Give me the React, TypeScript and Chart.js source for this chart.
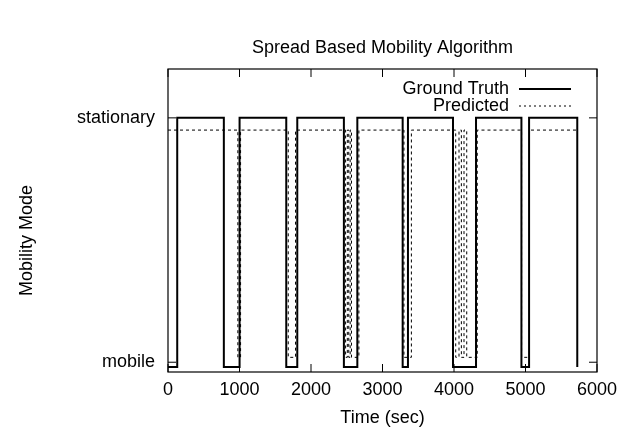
import React, { useEffect, useRef } from 'react';
import { Chart, registerables } from 'chart.js';

Chart.register(...registerables);

const FONT = '"Liberation Sans", Arial, Helvetica, sans-serif';

const chartTitle = 'Spread Based Mobility Algorithm';
const xAxisTitle = 'Time (sec)';
const yAxisTitle = 'Mobility Mode';
const xTickValues = [0, 1000, 2000, 3000, 4000, 5000, 6000];
const yTickValues = [0, 1];
const yTickLabels = ['mobile', 'stationary'];

// Ground truth: time of each change and the level it moves to
const gtTimes = [0, 129, 781, 1001, 1654, 1808, 2460, 2648, 3282, 3356, 3986, 4308, 4943, 5050, 5724];
const gtValues = [-0.02, 1, -0.02, 1, -0.02, 1, -0.02, 1, -0.02, 1, -0.02, 1, -0.02, 1, -0.02];

// Predicted: time of each change and the level it moves to
const predTimes = [0, 977, 1015, 1682, 1784, 2484, 2508, 2528, 2548, 2566, 2670, 3300, 3404, 4024, 4070, 4103, 4140, 4178, 4325, 4945, 5055, 5720];
const predValues = [0.95, 0.02, 0.95, 0.02, 0.95, 0.02, 0.95, 0.02, 0.95, 0.02, 0.95, 0.02, 0.95, 0.02, 0.95, 0.02, 0.95, 0.02, 0.95, 0.02, 0.95, 0.95];

const legendItems = ['Ground Truth', 'Predicted'];

const framePlugin = {
  id: 'gnuFrame',
  afterDatasetsDraw(chart: any) {
    const { ctx, chartArea } = chart;
    const { left, right, top, bottom } = chartArea;
    const xs = chart.scales.x;
    const ys = chart.scales.y;
    ctx.save();
    ctx.strokeStyle = '#000';
    ctx.lineWidth = 1.2;
    ctx.setLineDash([]);
    ctx.strokeRect(left, top, right - left, bottom - top);
    const tl = 8;
    ctx.lineWidth = 1;
    ctx.beginPath();
    xTickValues.forEach((v) => {
      const px = xs.getPixelForValue(v);
      ctx.moveTo(px, bottom);
      ctx.lineTo(px, bottom - tl);
      ctx.moveTo(px, top);
      ctx.lineTo(px, top + tl);
    });
    yTickValues.forEach((v) => {
      const py = ys.getPixelForValue(v);
      ctx.moveTo(left, py);
      ctx.lineTo(left + tl, py);
      ctx.moveTo(right, py);
      ctx.lineTo(right - tl, py);
    });
    ctx.stroke();

    ctx.font = '18px ' + FONT;
    ctx.fillStyle = '#000';
    ctx.textBaseline = 'middle';

    // chart title, centred over the plot
    ctx.textAlign = 'center';
    ctx.fillText(chartTitle, (left + right) / 2, top - 21);

    // y axis title
    ctx.save();
    ctx.translate(27, (top + bottom) / 2 + 20);
    ctx.rotate(-Math.PI / 2);
    ctx.fillText(yAxisTitle, 0, 0);
    ctx.restore();

    // key (legend) inside the plot, top right
    ctx.textAlign = 'right';
    const textX = right - 88;
    const lineX0 = right - 78;
    const lineX1 = right - 26;
    const rows = [top + 20, top + 37];
    legendItems.forEach((label, i) => {
      ctx.fillText(label, textX, rows[i]);
      ctx.beginPath();
      if (i === 0) {
        ctx.lineWidth = 2;
        ctx.setLineDash([]);
      } else {
        ctx.lineWidth = 1;
        ctx.setLineDash([2, 3]);
      }
      ctx.moveTo(lineX0, rows[i]);
      ctx.lineTo(lineX1, rows[i]);
      ctx.stroke();
    });
    ctx.restore();
  },
};

export default function App() {
  const canvasRef = useRef<HTMLCanvasElement | null>(null);

  useEffect(() => {
    document.body.style.margin = '0';
    const canvas = canvasRef.current;
    if (!canvas) return;
    Chart.defaults.font.family = FONT;
    Chart.defaults.color = '#000';

    const chart = new Chart(canvas, {
      type: 'line',
      data: {
        datasets: [
          {
            label: legendItems[0],
            data: gtTimes.map((t, i) => ({ x: t, y: gtValues[i] })),
            borderColor: '#000',
            borderWidth: 2,
            pointRadius: 0,
            stepped: 'before',
            fill: false,
          },
          {
            label: legendItems[1],
            data: predTimes.map((t, i) => ({ x: t, y: predValues[i] })),
            borderColor: '#000',
            borderWidth: 1,
            borderDash: [3, 3],
            pointRadius: 0,
            stepped: 'before',
            fill: false,
          },
        ],
      },
      options: {
        animation: false,
        responsive: false,
        layout: { padding: { left: 0, right: 32, top: 69, bottom: 0 } },
        plugins: {
          legend: { display: false },
          tooltip: { enabled: false },
          title: { display: false },
        },
        scales: {
          x: {
            type: 'linear',
            min: 0,
            max: 6000,
            afterBuildTicks: (scale: any) => {
              scale.ticks = xTickValues.map((v) => ({ value: v }));
            },
            ticks: {
              font: { size: 18, family: FONT },
              color: '#000',
              padding: 7,
              maxRotation: 0,
              callback: (v: any) => String(v),
            },
            grid: { display: false, drawTicks: false },
            border: { display: false },
            title: {
              display: true,
              text: xAxisTitle,
              color: '#000',
              font: { size: 18, family: FONT },
              padding: { top: 6, bottom: -1 },
            },
            afterFit: (scale: any) => {
              scale.height = 56;
            },
          },
          y: {
            type: 'linear',
            min: -0.04,
            max: 1.2,
            afterBuildTicks: (scale: any) => {
              scale.ticks = yTickValues.map((v) => ({ value: v }));
            },
            ticks: {
              font: { size: 18, family: FONT },
              color: '#000',
              padding: 13,
              callback: (v: any) => yTickLabels[yTickValues.indexOf(Number(v))] ?? '',
            },
            grid: { display: false, drawTicks: false },
            border: { display: false },
            title: { display: false },
            afterFit: (scale: any) => {
              scale.width = 168;
            },
          },
        },
      },
      plugins: [framePlugin],
    });
    return () => chart.destroy();
  }, []);

  return (
    <div style={{ width: 629, height: 428 }}>
      <canvas ref={canvasRef} width={629} height={428} style={{ display: 'block' }} />
    </div>
  );
}
